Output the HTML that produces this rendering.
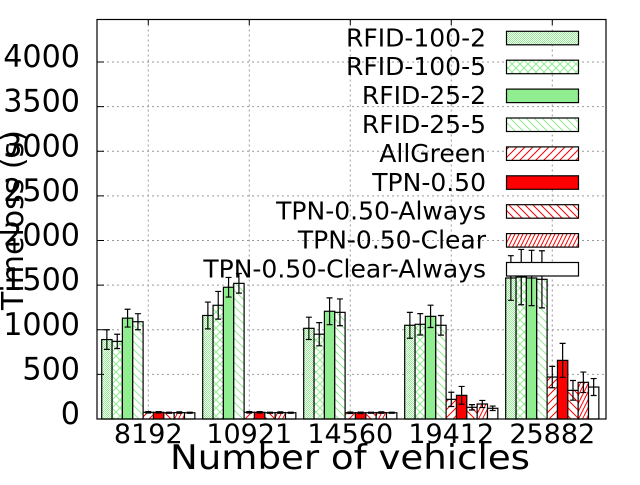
<!DOCTYPE html>
<html><head><meta charset="utf-8"><style>
html,body{margin:0;padding:0;background:#fff;}
svg text{font-family:"DejaVu Sans","Liberation Sans",sans-serif;}
</style></head><body>
<svg id="chart" width="640" height="480" viewBox="0 0 640 480" xmlns="http://www.w3.org/2000/svg">
<defs>
<pattern id="p0" width="2" height="2" patternUnits="userSpaceOnUse"><rect width="2" height="2" fill="#fff"/><rect x="0" y="0" width="1" height="1" fill="#90ee90"/><rect x="1" y="1" width="1" height="1" fill="#90ee90"/></pattern>
<pattern id="p1" width="8" height="8" patternUnits="userSpaceOnUse"><rect width="8" height="8" fill="#fff"/><path d="M0 0L8 8M8 0L0 8" stroke="#90ee90" stroke-width="1"/></pattern>
<pattern id="p3" width="8" height="8" patternUnits="userSpaceOnUse"><rect width="8" height="8" fill="#fff"/><path d="M0 0L8 8M-4 4L4 12M4 -4L12 4" stroke="#90ee90" stroke-width="1"/></pattern>
<pattern id="p4" width="8" height="8" patternUnits="userSpaceOnUse"><rect width="8" height="8" fill="#fff"/><path d="M0 8L8 0M-4 4L4 -4M4 12L12 4" stroke="#f00" stroke-width="1"/></pattern>
<pattern id="p6" width="8" height="8" patternUnits="userSpaceOnUse"><rect width="8" height="8" fill="#fff"/><path d="M0 0L8 8M-4 4L4 12M4 -4L12 4" stroke="#f00" stroke-width="1"/></pattern>
<pattern id="p7" width="4" height="8" patternUnits="userSpaceOnUse"><rect width="4" height="8" fill="#fff"/><path d="M0 8L4 0M-2 4L0 0M4 8L6 4" stroke="#f00" stroke-width="1"/></pattern>
</defs>
<g id="grid"></g>
<g id="bars"></g>
<g id="legend"></g>
<rect x="97" y="19.5" width="509" height="399.5" fill="none" stroke="#000" stroke-width="1.2"/>
<g id="axes"></g>
<text x="350" y="469" font-size="34" textLength="360" lengthAdjust="spacingAndGlyphs" text-anchor="middle">Number of vehicles</text>
<text transform="translate(23,220) rotate(-90)" font-size="30" text-anchor="middle">Timeloss (s)</text>
</svg>
<script>
const categories = ["8192","10921","14560","19412","25882"];
const seriesNames = ["RFID-100-2","RFID-100-5","RFID-25-2","RFID-25-5","AllGreen","TPN-0.50","TPN-0.50-Always","TPN-0.50-Clear","TPN-0.50-Clear-Always"];
const rfid100_2 = [890,1160,1016,1050,1580];
const rfid100_5 = [870,1274,950,1061,1590];
const rfid25_2 = [1130,1476,1207,1150,1580];
const rfid25_5 = [1090,1520,1195,1050,1565];
const allGreen = [75,75,70,220,470];
const tpn = [75,75,70,265,657];
const tpnAlways = [70,70,70,131,321];
const tpnClear = [72,72,72,168,411];
const tpnClearAlways = [70,70,70,120,358];
const err100_2 = [110,150,125,145,250];
const err100_5 = [80,155,130,120,310];
const err25_2 = [100,110,150,125,310];
const err25_5 = [90,110,150,110,320];
const errAllGreen = [8,8,8,80,120];
const errTpn = [8,8,8,100,190];
const errTpnAlways = [6,6,6,30,110];
const errTpnClear = [8,8,8,40,115];
const errTpnClearAlways = [6,6,6,25,95];
const yTicks = [0,500,1000,1500,2000,2500,3000,3500,4000];

const NS="http://www.w3.org/2000/svg";
const series=[rfid100_2,rfid100_5,rfid25_2,rfid25_5,allGreen,tpn,tpnAlways,tpnClear,tpnClearAlways];
const errs=[err100_2,err100_5,err25_2,err25_5,errAllGreen,errTpn,errTpnAlways,errTpnClear,errTpnClearAlways];
const fills=["url(#p0)","url(#p1)","#90ee90","url(#p3)","url(#p4)","#f00","url(#p6)","url(#p7)","#fff"];
const y0=419, yScale=(419-62)/4000;
function yPos(v){return y0-v*yScale;}
const groupStart=101.7, groupStep=101, barW=10.35;
function xBar(g,s){return groupStart+g*groupStep+s*barW;}
function xCenter(g){return groupStart+g*groupStep+barW*series.length/2;}
function mk(tag,attrs,parent){const e=document.createElementNS(NS,tag);for(const k in attrs)e.setAttribute(k,attrs[k]);parent.appendChild(e);return e;}
const grid=document.getElementById('grid'),bars=document.getElementById('bars'),axes=document.getElementById('axes'),leg=document.getElementById('legend');
yTicks.forEach(t=>{
  const y=yPos(t);
  if(t>0){const l=mk('line',{x1:97,x2:606,y1:y,y2:y,stroke:'#999','stroke-dasharray':'2,3','stroke-width':1},grid);
  
  }
  const tk=mk('line',{x1:97,x2:104,y1:y,y2:y,stroke:'#000'},axes);
  
  
  const tx=mk('text',{x:80,y:y+5,'font-size':31,'text-anchor':'end',textLength:(String(t).length*19.2),lengthAdjust:'spacingAndGlyphs'},axes);
  tx.textContent=t;
  
  
});
categories.forEach((c,g)=>{
  const x=xCenter(g);
  const l=mk('line',{x1:x,x2:x,y1:19.5,y2:419,stroke:'#999','stroke-dasharray':'2,3','stroke-width':1},grid);
  
  
  const tk=mk('line',{x1:x,x2:x,y1:19.5,y2:25,stroke:'#000'},axes);
  
  
  const tx=mk('text',{x:x,y:443,'font-size':27,'text-anchor':'middle'},axes);
  tx.textContent=c;
  
  
  series.forEach((s,i)=>{
    const v=s[g],e=errs[i][g],bx=xBar(g,i),top=yPos(v);
    const r=mk('rect',{x:bx,y:top,width:barW,height:y0-top,fill:fills[i],stroke:'#000','stroke-width':1.2},bars);
    
    
    const cx=bx+barW/2,yh=yPos(v+e),yl=yPos(Math.max(0,v-e));
    const eb=mk('path',{d:`M${cx} ${yh}V${yl}M${cx-3} ${yh}H${cx+3}M${cx-3} ${yl}H${cx+3}`,stroke:'#000','stroke-width':1.2,fill:'none'},bars);
    
    
  });
});
seriesNames.forEach((n,i)=>{
  const yt=31.3+i*28.9;
  const tx=mk('text',{x:486,y:yt+15,'font-size':25,'text-anchor':'end'},leg);
  tx.textContent=n;
  
  
  const r=mk('rect',{x:506.5,y:yt,width:72,height:13.5,fill:fills[i],stroke:'#000','stroke-width':1.2},leg);
  
  
});
</script>
</body></html>
